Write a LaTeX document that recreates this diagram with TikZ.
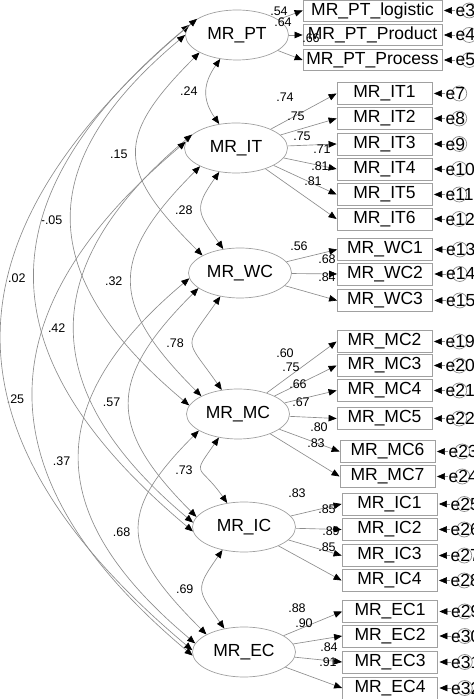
\documentclass[tikz,border=0pt]{standalone}
\usepackage{fontspec}
\setmainfont{Liberation Sans}
\usepackage{tikz}
\usetikzlibrary{arrows.meta,positioning,shapes.geometric}
\definecolor{AmosLine}{HTML}{8C8C8C}
\definecolor{AmosBox}{HTML}{A0A0A0}
\newcommand{\semfont}{\fontsize{17.5}{20}\selectfont}
\newcommand{\coeffont}{\fontsize{12.5}{14}\selectfont}

\begin{document}
\begin{tikzpicture}[x=1pt,y=1pt,>={Triangle[length=8pt,width=6.5pt,color=black]}]
  \path[use as bounding box] (0,0) rectangle (474,699);

  \tikzset{
    semLatent/.style={
      ellipse,
      draw=AmosBox,
      line width=.7pt,
      minimum width=103pt,
      minimum height=50pt,
      inner sep=0pt,
      font=\semfont
    },
    semItem/.style={
      rectangle,
      draw=AmosBox,
      line width=.8pt,
      minimum width=95pt,
      minimum height=22pt,
      inner sep=0pt,
      font=\semfont
    },
    semItemWide/.style={
      semItem,
      minimum width=139pt,
      minimum height=21pt
    },
    semErr/.style={
      circle,
      draw=AmosLine,
      line width=.7pt,
      minimum size=15pt,
      inner sep=0pt
    },
    semErrText/.style={inner sep=0pt, font=\semfont},
    semCoef/.style={inner sep=0pt, font=\coeffont},
    semLoad/.style={->, draw=AmosLine, line width=.65pt},
    semCov/.style={<->, draw=AmosLine, line width=.65pt}
  }

  % latente Faktoren
  \node[semLatent] (PT) at (237,664) {MR\_PT};
  \node[semLatent] (IT) at (236,551) {MR\_IT};
  \node[semLatent] (WC) at (240,426) {MR\_WC};
  \node[semLatent] (MC) at (238,285) {MR\_MC};
  \node[semLatent] (IC) at (244,172) {MR\_IC};
  \node[semLatent] (EC) at (244,47)  {MR\_EC};

  % Indikatoren
  \node[semItemWide] (PTlog)  at (372.5,688.5) {MR\_PT\_logistic};
  \node[semItemWide] (PTprod) at (372.5,664)   {MR\_PT\_Product};
  \node[semItemWide] (PTproc) at (372.5,639)   {MR\_PT\_Process};

  \node[semItem] (IT1) at (384.5,605.5) {MR\_IT1};
  \node[semItem] (IT2) at (384.5,580.5) {MR\_IT2};
  \node[semItem] (IT3) at (384.5,555)   {MR\_IT3};
  \node[semItem] (IT4) at (384.5,530)   {MR\_IT4};
  \node[semItem] (IT5) at (384.5,504.5) {MR\_IT5};
  \node[semItem] (IT6) at (384.5,480)   {MR\_IT6};

  \node[semItem] (WC1) at (385,449.5) {MR\_WC1};
  \node[semItem] (WC2) at (385,425)   {MR\_WC2};
  \node[semItem] (WC3) at (385,398.5) {MR\_WC3};

  \node[semItem] (MC2) at (384.5,357.5) {MR\_MC2};
  \node[semItem] (MC3) at (384.5,333.5) {MR\_MC3};
  \node[semItem] (MC4) at (384.5,308.5) {MR\_MC4};
  \node[semItem] (MC5) at (384.5,280.5) {MR\_MC5};
  \node[semItem] (MC6) at (387.5,247.5) {MR\_MC6};
  \node[semItem] (MC7) at (387.5,222.5) {MR\_MC7};

  \node[semItem] (IC1) at (389.5,195)   {MR\_IC1};
  \node[semItem] (IC2) at (389.5,169.5) {MR\_IC2};
  \node[semItem] (IC3) at (389.5,143.5) {MR\_IC3};
  \node[semItem] (IC4) at (389.5,118.5) {MR\_IC4};

  \node[semItem] (EC1) at (390,87.5) {MR\_EC1};
  \node[semItem] (EC2) at (390,63)   {MR\_EC2};
  \node[semItem] (EC3) at (390,37)   {MR\_EC3};
  \node[semItem] (EC4) at (390,11)   {MR\_EC4};

  % Ladungen
  \foreach \lat/\item in {PT/PTlog,PT/PTprod,PT/PTproc,
      IT/IT1,IT/IT2,IT/IT3,IT/IT4,IT/IT5,IT/IT6,
      WC/WC1,WC/WC2,WC/WC3,
      MC/MC2,MC/MC3,MC/MC4,MC/MC5,MC/MC6,MC/MC7,
      IC/IC1,IC/IC2,IC/IC3,IC/IC4,
      EC/EC1,EC/EC2,EC/EC3,EC/EC4}
    \draw[semLoad] (\lat) -- (\item.west);

  \foreach \x/\y/\val [count=\i] in {279/688/.54,283/677/.64,311/661/.66,
      285/602/.74,296/583/.75,302/563/.75,322/550/.71,320/533/.81,313/518/.81,
      299/453/.56,327/440/.68,327/422/.84,
      285/346/.60,291/332/.75,298/315/.66,301/297/.67,319/272/.80,316/256/.83,
      297/206/.83,327/190/.85,331/168/.89,327/152/.85,
      297/91/.88,304/76/.90,329/52/.84,328/37/.91}
    \node[semCoef] (load\i) at (\x,\y) {\val};

  % Fehlerterme
  \foreach \item/\err in {PTlog/3,PTprod/4,PTproc/5,
      IT1/7,IT2/8,IT3/9,IT4/10,IT5/11,IT6/12,
      WC1/13,WC2/14,WC3/15,
      MC2/19,MC3/20,MC4/21,MC5/22,MC6/23,MC7/24,
      IC1/25,IC2/26,IC3/27,IC4/28,
      EC1/29,EC2/30,EC3/31,EC4/32}
  {
    \node[semErr, right=19pt of \item] (c\err) {};
    \node[semErrText, right=13pt of \item] (e\err) {e\err};
    \draw[semLoad, shorten >=1.5pt] (e\err.west) -- (\item.east);
  }

  % Kovarianzen, benachbarte Faktoren
  \draw[semCov] (PT.235) to[out=235,in=125,distance=30]
    node[semCoef,left=9pt] (rPTIT) {.24} (IT.125);
  \draw[semCov] (IT.235) to[out=235,in=125,distance=45]
    node[semCoef,left=9pt] (rITWC) {.28} (WC.125);
  \draw[semCov] (WC.230) to[out=235,in=125,distance=65]
    node[semCoef,left=9pt] (rWCMC) {.78} (MC.124);
  \draw[semCov] (MC.231) to[out=235,in=125,distance=49]
    node[semCoef,left=9pt] (rMCIC) {.73} (IC.125);
  \draw[semCov] (IC.227) to[out=235,in=125,distance=48]
    node[semCoef,left=9pt] (rICEC) {.69} (EC.130);

  % ein Faktor dazwischen
  \draw[semCov] (PT.205) to[out=225,in=135,distance=121]
    node[semCoef,left=9pt] (rPTWC) {.15} (WC.155);
  \draw[semCov] (IT.207) to[out=225,in=135,distance=130]
    node[semCoef,left=9pt] (rITMC) {.32} (MC.154);
  \draw[semCov] (WC.200) to[out=225,in=135,distance=128]
    node[semCoef,left=9pt] (rWCIC) {.57} (IC.168);
  \draw[semCov] (MC.203) to[out=225,in=135,distance=119]
    node[semCoef,left=9pt] (rMCEC) {.68} (EC.155);

  % weite Boegen
  \draw[semCov] (PT.180) to[out=220,in=140,distance=201]
    node[semCoef,left=9pt] (rPTMC) {-.05} (MC.170);
  \draw[semCov] (IT.163) to[out=220,in=140,distance=205]
    node[semCoef,left=9pt] (rITIC) {.42} (IC.175);
  \draw[semCov] (WC.186) to[out=220,in=140,distance=196]
    node[semCoef,left=9pt] (rWCEC) {.37} (EC.170);
  \draw[semCov] (PT.168) to[out=220,in=140,distance=272]
    node[semCoef,left=9pt] (rPTIC) {.02} (IC.185);
  \draw[semCov] (IT.173) to[out=220,in=140,distance=271]
    node[semCoef,left=9pt] (rITEC) {.25} (EC.184);
  \draw[semCov] (PT.158) to[out=220,in=140,distance=336] (EC.178);
\end{tikzpicture}
\end{document}
